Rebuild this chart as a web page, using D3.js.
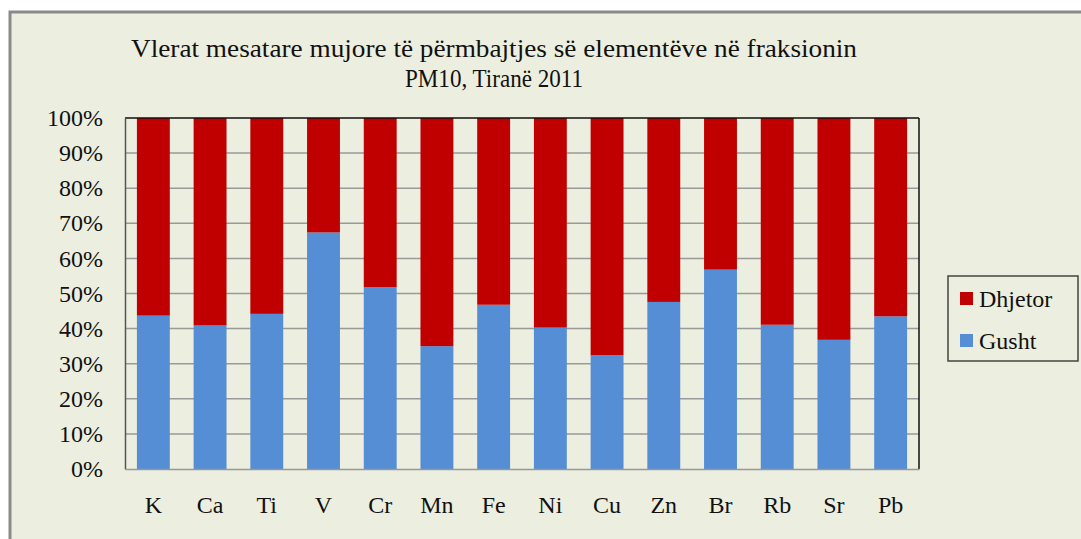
<!DOCTYPE html>
<html>
<head>
<meta charset="utf-8">
<script src="https://cdn.jsdelivr.net/npm/d3@7/dist/d3.min.js"></script>
<style>
  html, body { margin: 0; padding: 0; background: #fff; }
  svg { display: block; }
</style>
</head>
<body>
<div id="chart"></div>
<script>
const categories = ['K', 'Ca', 'Ti', 'V', 'Cr', 'Mn', 'Fe', 'Ni', 'Cu', 'Zn', 'Br', 'Rb', 'Sr', 'Pb'];
const gusht = [43.7, 40.9, 44.2, 67.4, 51.8, 35.0, 46.8, 40.3, 32.4, 47.6, 56.8, 41.1, 36.8, 43.5];
const dhjetor = [56.3, 59.1, 55.8, 32.6, 48.2, 65.0, 53.2, 59.7, 67.6, 52.4, 43.2, 58.9, 63.2, 56.5];
const yTicks = [0, 0.1, 0.2, 0.3, 0.4, 0.5, 0.6, 0.7, 0.8, 0.9, 1];
const titleLines = ['Vlerat mesatare mujore të përmbajtjes së elementëve në fraksionin', 'PM10, Tiranë 2011'];

const width = 1081, height = 539;
const margin = { top: 118, right: 162, bottom: 70, left: 125 };
const innerWidth = width - margin.left - margin.right;
const innerHeight = height - margin.top - margin.bottom;

const red = '#C00000', blue = '#558ED5';
const FONT = 'Liberation Serif';

const svg = d3.select('#chart').append('svg')
  .attr('width', width)
  .attr('height', height)
  .attr('font-family', FONT);

// chart area background + left/top border (runs off the page on right and bottom)
svg.append('rect')
  .attr('x', 10).attr('y', 12)
  .attr('width', width - 10).attr('height', height - 12)
  .attr('fill', '#ECEEDF');
svg.append('path')
  .attr('d', `M10,${height}V12H${width}`)
  .attr('fill', 'none')
  .attr('stroke', '#8a8a8a')
  .attr('stroke-width', 3);

// title
svg.append('text')
  .attr('x', 494).attr('y', 57)
  .attr('text-anchor', 'middle')
  .attr('font-family', FONT)
  .attr('font-size', 25)
  .attr('textLength', 726)
  .attr('lengthAdjust', 'spacingAndGlyphs')
  .attr('fill', '#111')
  .text(titleLines[0]);
svg.append('text')
  .attr('x', 494).attr('y', 87)
  .attr('text-anchor', 'middle')
  .attr('font-family', FONT)
  .attr('font-size', 25)
  .attr('textLength', 178)
  .attr('lengthAdjust', 'spacingAndGlyphs')
  .attr('fill', '#111')
  .text(titleLines[1]);

const g = svg.append('g').attr('transform', `translate(${margin.left},${margin.top})`);

const x = d3.scaleBand()
  .domain(categories)
  .range([0, innerWidth])
  .paddingInner(0.42)
  .paddingOuter(0.21);

const y = d3.scaleLinear().domain([0, 1]).range([innerHeight, 0]);

// gridlines
g.append('g')
  .selectAll('line')
  .data(yTicks.slice(1, -1))
  .enter()
  .append('line')
  .attr('x1', 0).attr('x2', innerWidth)
  .attr('y1', d => y(d)).attr('y2', d => y(d))
  .attr('stroke', '#9a9a9a')
  .attr('stroke-width', 1.5);

// stacked bars, normalised to 100%
const rows = categories.map((c, i) => ({ category: c, Gusht: gusht[i], Dhjetor: dhjetor[i] }));
const series = d3.stack()
  .keys(['Gusht', 'Dhjetor'])
  .offset(d3.stackOffsetExpand)(rows);
const colors = { Gusht: blue, Dhjetor: red };

g.selectAll('.layer')
  .data(series)
  .enter()
  .append('g')
  .attr('class', 'layer')
  .attr('fill', d => colors[d.key])
  .selectAll('rect')
  .data(d => d)
  .enter()
  .append('rect')
  .attr('x', d => x(d.data.category))
  .attr('y', d => y(d[1]))
  .attr('width', x.bandwidth())
  .attr('height', d => y(d[0]) - y(d[1]));

// plot border top/right
g.append('line')
  .attr('x1', 0).attr('x2', innerWidth).attr('y1', 0).attr('y2', 0)
  .attr('stroke', '#111').attr('stroke-width', 1.5);
g.append('line')
  .attr('x1', innerWidth).attr('x2', innerWidth).attr('y1', 0).attr('y2', innerHeight)
  .attr('stroke', '#111').attr('stroke-width', 1.5);

// y axis
const yAxis = g.append('g')
  .call(d3.axisLeft(y).tickValues(yTicks).tickSize(0).tickPadding(22).tickFormat(d3.format('.0%')));
yAxis.attr('font-family', FONT).attr('font-size', 24);
yAxis.select('.domain').attr('stroke', '#555').attr('stroke-width', 1.5);
yAxis.selectAll('text').attr('fill', '#111');

// x axis
const xAxis = g.append('g')
  .attr('transform', `translate(0,${innerHeight})`)
  .call(d3.axisBottom(x).tickSize(0).tickPadding(27));
xAxis.attr('font-family', FONT).attr('font-size', 24);
xAxis.select('.domain').attr('stroke', '#999').attr('stroke-width', 1.5);
xAxis.selectAll('text').attr('fill', '#111');

// legend
const legend = svg.append('g').attr('transform', 'translate(948,276)');
legend.append('rect')
  .attr('width', 130).attr('height', 85)
  .attr('fill', 'none')
  .attr('stroke', '#444')
  .attr('stroke-width', 1.5);
const legendItems = [{ key: 'Dhjetor', color: red }, { key: 'Gusht', color: blue }];
const li = legend.selectAll('.item')
  .data(legendItems)
  .enter()
  .append('g')
  .attr('class', 'item')
  .attr('transform', (d, i) => `translate(12,${16 + i * 42})`);
li.append('rect')
  .attr('width', 13).attr('height', 13)
  .attr('fill', d => d.color);
li.append('text')
  .attr('x', 19).attr('y', 15)
  .attr('font-family', FONT)
  .attr('font-size', 24)
  .attr('fill', '#111')
  .text(d => d.key);
</script>
</body>
</html>
